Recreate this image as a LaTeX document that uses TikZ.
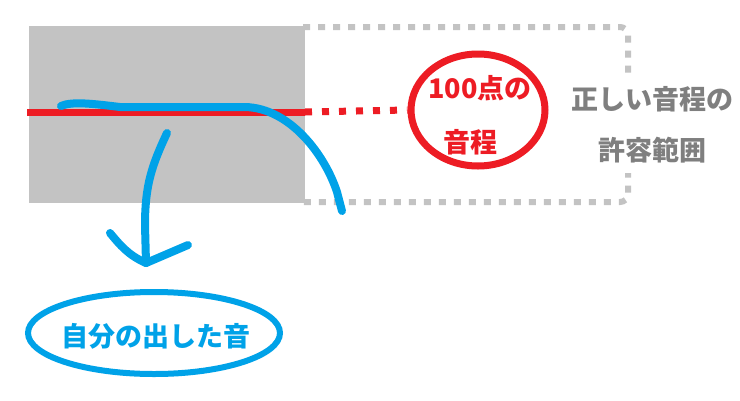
\documentclass[tikz,border=0pt]{standalone}
\usepackage{fontspec}
\newfontfamily\jp{Noto Sans CJK JP}
\usetikzlibrary{shapes.geometric}
\definecolor{boxgray}{HTML}{C3C3C3}
\definecolor{txtgray}{HTML}{7F7F7F}
\definecolor{myred}{HTML}{ED1C24}
\definecolor{myblue}{HTML}{00A2E8}
\tikzset{
  jptext/.style={font=\jp\bfseries\fontsize{27}{51}\selectfont, inner sep=0pt},
  borderline/.style={draw=boxgray, line width=6pt, dash pattern=on 7pt off 8pt, rounded corners=8pt},
  redline/.style={draw=myred, line width=7pt},
  reddots/.style={draw=myred, line width=7pt, dash pattern=on 7pt off 10pt},
  blueline/.style={draw=myblue, line width=8pt, line cap=round, line join=round},
  ringred/.style={ellipse, draw=myred, line width=7pt, minimum width=134pt, minimum height=112pt, inner sep=0pt},
  ringblue/.style={ellipse, draw=myblue, line width=6pt, minimum width=252pt, minimum height=82pt, inner sep=0pt},
}
\begin{document}
\begin{tikzpicture}[x=1pt,y=-1pt]
\useasboundingbox[fill=white] (0,0) rectangle (740,400);
% dotted tolerance box
\draw[borderline] (303,27) -- (628,27) -- (628,202) -- (303,202);
% gray band
\fill[boxgray] (29,26) rectangle (305,203);
% red ellipse
\node[ringred] (target) at (478,110) {};
\node[jptext, text=myred] (t1) at (480,88) {100点の};
\node[jptext, text=myred] (t2) at (470,142) {音程};
% red line
\coordinate (rstart) at (27,112);
\coordinate (rmid) at (305,112);
\draw[redline] (rstart) -- (rmid);
\draw[reddots] (rmid) -- (target.west);
% gray label
\node[jptext, text=txtgray, fill=white, align=center, inner xsep=4pt, inner ysep=10pt] (tol) at (652,125) {正しい音程の\\許容範囲};
% blue sung curve
\draw[blueline] (61,106) .. controls (72,101) and (95,104) .. (120,107) -- (245,107)
  .. controls (290,108) and (325,155) .. (337,192) -- (342,211);
% blue ellipse
\node[ringblue] (voice) at (154,333) {};
\node[jptext, text=myblue] (vt) at (156,336) {自分の出した音};
% blue arrow
\coordinate (as) at (167,133);
\coordinate (tip) at (146,263);
\draw[blueline] (as) .. controls (152,165) and (145,185) .. (145,225) -- (tip);
\draw[blueline] (110,233) .. controls (120,245) and (128,255) .. (tip);
\draw[blueline] (188,245) -- (tip);
\end{tikzpicture}
\end{document}
